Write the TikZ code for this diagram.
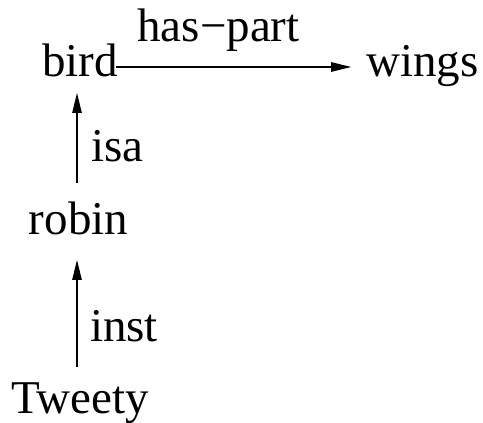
\documentclass[tikz,border=0pt]{standalone}
\usepackage{fontspec}
\setmainfont{Liberation Serif}
\usetikzlibrary{arrows.meta,calc}
\begin{document}
\begin{tikzpicture}[x=1pt,y=1pt,
  lbl/.style={inner sep=0pt,anchor=base,font=\fontsize{47}{56}\selectfont},
  conn/.style={line width=1.1pt,-{Triangle[length=20pt,width=9.5pt]}}]
\useasboundingbox (0,0) rectangle (483,423);
\node[lbl] (bird) at (80,346) {bird};
\node[lbl] (wings) at (422.5,346) {wings};
\node[lbl] (robin) at (78.5,188) {robin};
\node[lbl] (tweety) at (80,9.5) {Tweety};
\node[lbl] (haspart) at (218.5,381) {has−part};
\node[lbl] (isa) at (117.5,261) {isa};
\node[lbl] (inst) at (124,81) {inst};
\draw[conn] ($(bird.base east)+(-2,10)$) -- ($(wings.base west)+(-15,10)$);
\draw[conn] ($(robin.base)+(-1.5,52)$) -- ($(bird.base)+(-3,-16)$);
\draw[conn] ($(tweety.base)+(-3,46.5)$) -- ($(robin.base)+(-1.5,-25)$);
\end{tikzpicture}
\end{document}
